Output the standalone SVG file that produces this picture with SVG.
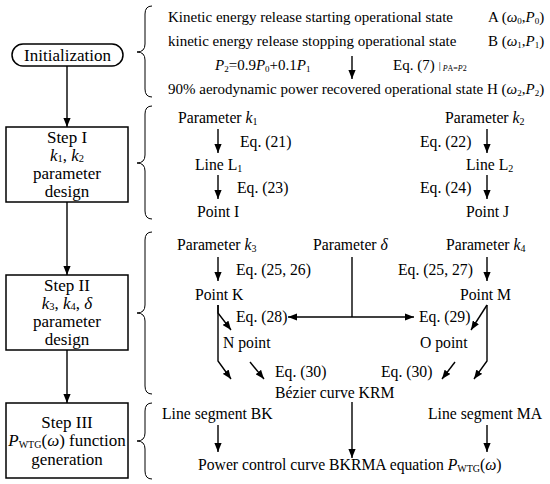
<svg xmlns="http://www.w3.org/2000/svg" width="550" height="484" viewBox="0 0 550 484">
<style>
text{font-family:"Liberation Serif","Times New Roman",serif;font-size:15.7px;fill:#000}
.l{font-size:17px}
.t{font-size:15px}
.i{font-style:italic}
.box{fill:#fff;stroke:#000;stroke-width:1.5}
.br{fill:none;stroke:#000;stroke-width:1}
.c{fill:none;stroke:#000;stroke-width:1.4}
</style>
<defs>
<marker id="ah" viewBox="0 0 10 8" refX="10" refY="4" markerWidth="9" markerHeight="7.2" markerUnits="userSpaceOnUse" orient="auto"><path d="M0,0 L10,4 L0,8 z" fill="#000"/></marker>
</defs>
<rect width="550" height="484" fill="#fff"/>

<g id="init"><rect class="box" x="12" y="44" width="111" height="22" rx="11"/><text class="l" x="67.5" y="60.5" text-anchor="middle">Initialization</text></g>
<g id="step1"><rect class="box" x="6" y="127" width="122" height="75"/>
<text class="l" x="67" y="142.5" text-anchor="middle">Step I</text>
<text class="l" x="67" y="160.5" text-anchor="middle"><tspan class="i">k</tspan><tspan font-size="10.5" dy="1.5">1</tspan><tspan dy="-1.5">, </tspan><tspan class="i">k</tspan><tspan font-size="10.5" dy="1.5">2</tspan></text>
<text class="l" x="67" y="178.5" text-anchor="middle">parameter</text>
<text class="l" x="67" y="196.5" text-anchor="middle">design</text></g>
<g id="step2"><rect class="box" x="6" y="275" width="122" height="75"/>
<text class="l" x="67" y="290.5" text-anchor="middle">Step II</text>
<text class="l" x="67" y="308.5" text-anchor="middle"><tspan class="i">k</tspan><tspan font-size="10.5" dy="1.5">3</tspan><tspan dy="-1.5">, </tspan><tspan class="i">k</tspan><tspan font-size="10.5" dy="1.5">4</tspan><tspan dy="-1.5">, </tspan><tspan class="i">δ</tspan></text>
<text class="l" x="67" y="326.5" text-anchor="middle">parameter</text>
<text class="l" x="67" y="344.5" text-anchor="middle">design</text></g>
<g id="step3"><rect class="box" x="6" y="403" width="122" height="75"/>
<text class="l" x="67" y="428" text-anchor="middle">Step III</text>
<text class="l" x="67" y="446" text-anchor="middle"><tspan class="i">P</tspan><tspan font-size="10" dy="1.5">WTG</tspan><tspan dy="-1.5">(</tspan><tspan class="i">ω</tspan>) function</text>
<text class="l" x="67" y="465" text-anchor="middle">generation</text></g>

<g id="braces">
<path class="br" d="M152,6 Q145,6 145,14 L145,44 Q145,52 137,52 Q145,52 145,60 L145,89 Q145,97 152,97"/>
<path class="br" d="M152,106 Q145,106 145,114 L145,155 Q145,163 137,163 Q145,163 145,171 L145,211 Q145,219 152,219"/>
<path class="br" d="M152,232 Q145,232 145,240 L145,305 Q145,313 137,313 Q145,313 145,321 L145,386 Q145,394 152,394"/>
<path class="br" d="M152,403 Q145,403 145,411 L145,433 Q145,441 137,441 Q145,441 145,449 L145,471 Q145,479 152,479"/>
</g>

<g id="init-texts">
<text class="t" x="168" y="22">Kinetic energy release starting operational state</text>
<text class="t" x="488" y="22">A (<tspan class="i">ω</tspan><tspan font-size="9" dy="2">0</tspan><tspan dy="-2">,</tspan><tspan class="i">P</tspan><tspan font-size="9" dy="2">0</tspan><tspan dy="-2">)</tspan></text>
<text class="t" x="168" y="46">kinetic energy release stopping operational state</text>
<text class="t" x="488" y="46">B (<tspan class="i">ω</tspan><tspan font-size="9" dy="2">1</tspan><tspan dy="-2">,</tspan><tspan class="i">P</tspan><tspan font-size="9" dy="2">1</tspan><tspan dy="-2">)</tspan></text>
<text class="t" x="215" y="70"><tspan class="i">P</tspan><tspan font-size="9" dy="2">2</tspan><tspan dy="-2">=0.9</tspan><tspan class="i">P</tspan><tspan font-size="9" dy="2">0</tspan><tspan dy="-2">+0.1</tspan><tspan class="i">P</tspan><tspan font-size="9" dy="2">1</tspan></text>
<text class="t" x="393" y="70">Eq. (7)<tspan font-size="10" dx="4" dy="-1">|</tspan><tspan font-size="8" dy="2" class="i"> P</tspan><tspan font-size="8">A=</tspan><tspan font-size="8" class="i">P</tspan><tspan font-size="8">2</tspan></text>
<text class="t" x="168" y="94">90% aerodynamic power recovered operational state H (<tspan class="i">ω</tspan><tspan font-size="9" dy="2">2</tspan><tspan dy="-2">,</tspan><tspan class="i">P</tspan><tspan font-size="9" dy="2">2</tspan><tspan dy="-2">)</tspan></text>
</g>

<g id="step1-texts">
<text x="178" y="123">Parameter <tspan class="i">k</tspan><tspan font-size="10" dy="2">1</tspan></text>
<text x="240" y="147">Eq. (21)</text>
<text x="195" y="170">Line L<tspan font-size="10" dy="2">1</tspan></text>
<text x="237" y="193">Eq. (23)</text>
<text x="197" y="217">Point I</text>
<text x="445" y="123">Parameter <tspan class="i">k</tspan><tspan font-size="10" dy="2">2</tspan></text>
<text x="420" y="147">Eq. (22)</text>
<text x="466" y="170">Line L<tspan font-size="10" dy="2">2</tspan></text>
<text x="420" y="193">Eq. (24)</text>
<text x="466" y="217">Point J</text>
</g>

<g id="step2-texts">
<text x="177" y="250">Parameter <tspan class="i">k</tspan><tspan font-size="10" dy="2">3</tspan></text>
<text x="313" y="250">Parameter <tspan class="i">δ</tspan></text>
<text x="446" y="250">Parameter <tspan class="i">k</tspan><tspan font-size="10" dy="2">4</tspan></text>
<text x="236" y="275">Eq. (25, 26)</text>
<text x="398" y="275">Eq. (25, 27)</text>
<text x="195" y="300">Point K</text>
<text x="460" y="300">Point M</text>
<text x="236" y="322">Eq. (28)</text>
<text x="419" y="322">Eq. (29)</text>
<text x="223" y="348">N point</text>
<text x="420" y="348">O point</text>
<text x="275" y="377">Eq. (30)</text>
<text x="381" y="377">Eq. (30)</text>
<text x="275" y="398">Bézier curve KRM</text>
</g>

<g id="step3-texts">
<text x="162" y="419">Line segment BK</text>
<text x="428" y="419">Line segment MA</text>
<text x="198" y="470">Power control curve BKRMA equation <tspan class="i">P</tspan><tspan font-size="10" dy="2">WTG</tspan><tspan dy="-2">(</tspan><tspan class="i">ω</tspan>)</text>
</g>

<g id="connectors">
<path class="c" d="M67,66 L67,127" marker-end="url(#ah)"/>
<path class="c" d="M67,202 L67,275" marker-end="url(#ah)"/>
<path class="c" d="M67,350 L67,403" marker-end="url(#ah)"/>
<path class="c" d="M352,56 L352,79" marker-end="url(#ah)"/>
<path class="c" d="M218,129 L218,153" marker-end="url(#ah)"/>
<path class="c" d="M218,175 L218,199" marker-end="url(#ah)"/>
<path class="c" d="M487,129 L487,153" marker-end="url(#ah)"/>
<path class="c" d="M487,175 L487,199" marker-end="url(#ah)"/>
<path class="c" d="M218,257 L218,281" marker-end="url(#ah)"/>
<path class="c" d="M487,257 L487,281" marker-end="url(#ah)"/>
<path class="c" d="M352,257 L352,317"/>
<path class="c" d="M352,317 L288,317" marker-end="url(#ah)"/>
<path class="c" d="M352,317 L414,317" marker-end="url(#ah)"/>
<path class="c" d="M218,305 L218,313 L231,330" marker-end="url(#ah)"/>
<path class="c" d="M218,305 L218,361 L231,379" marker-end="url(#ah)"/>
<path class="c" d="M250,362 L264,379" marker-end="url(#ah)"/>
<path class="c" d="M455,362 L442,379" marker-end="url(#ah)"/>
<path class="c" d="M487,305 L487,361 L474,379" marker-end="url(#ah)"/>
<path class="c" d="M487,305 L471,330" marker-end="url(#ah)"/>
<path class="c" d="M352,402 L352,458" marker-end="url(#ah)"/>
<path class="c" d="M218,425 L218,452" marker-end="url(#ah)"/>
<path class="c" d="M487,425 L487,452" marker-end="url(#ah)"/>
</g>
</svg>
